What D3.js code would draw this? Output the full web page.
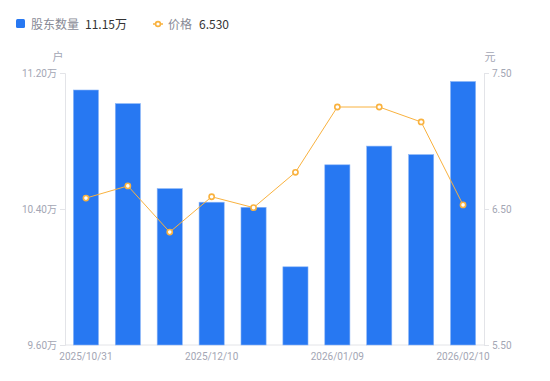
<!DOCTYPE html>
<html><head><meta charset="utf-8">
<script src="https://cdn.jsdelivr.net/npm/d3@7/dist/d3.min.js"></script>
<style>body{margin:0;background:#fff;font-family:"Noto Sans CJK SC","Noto Sans",sans-serif;}</style>
</head><body><svg id="c" width="550" height="381"></svg>
<script>
const dates = ["2025/10/31","2025/11/10","2025/11/20","2025/12/10","2025/12/19","2025/12/31","2026/01/09","2026/01/20","2026/01/30","2026/02/10"];
const holders = [11.10, 11.02, 10.52, 10.44, 10.41, 10.06, 10.66, 10.77, 10.72, 11.15];
const prices = [6.58, 6.67, 6.33, 6.59, 6.51, 6.77, 7.25, 7.25, 7.14, 6.53];
const leftTicks = [9.60, 10.40, 11.20];
const rightTicks = [5.50, 6.50, 7.50];
const shownDates = ["2025/10/31","2025/12/10","2026/01/09","2026/02/10"];

const svg = d3.select("#c");
const L = 65, R = 484, T = 73, B = 345;
const x = d3.scaleBand().domain(dates).range([L, R]).paddingInner(0.4).paddingOuter(0.2);
const yL = d3.scaleLinear().domain([9.60, 11.20]).range([B, T]);
const yR = d3.scaleLinear().domain([5.50, 7.50]).range([B, T]);
const blue = "#2778F2", orange = "#F9B23F", tickCol = "#A3A6B4", axisCol = "#E3E4E8";

// axes
const gl = svg.append("g").attr("transform", `translate(${L},0)`)
  .call(d3.axisLeft(yL).tickValues(leftTicks).tickSize(5).tickPadding(3).tickFormat(d => d.toFixed(2) + "万"));
const gr = svg.append("g").attr("transform", `translate(${R},0)`)
  .call(d3.axisRight(yR).tickValues(rightTicks).tickSize(5).tickPadding(3).tickFormat(d => d.toFixed(2)));
const gx = svg.append("g").attr("transform", `translate(0,${B})`)
  .call(d3.axisBottom(x).tickValues(shownDates).tickSize(0).tickPadding(8));
[gl, gr, gx].forEach(g => {
  g.select(".domain").attr("stroke", axisCol);
  g.selectAll(".tick line").attr("stroke", axisCol);
  g.selectAll("text").attr("fill", tickCol).style("font-family", "Roboto, 'Noto Sans CJK SC', sans-serif").style("font-size", "10px");
});
gx.select(".domain").attr("d", `M${L},0H${R}`);

// bars
svg.append("g").selectAll("rect").data(dates).join("rect")
  .attr("x", d => x(d)).attr("width", x.bandwidth())
  .attr("y", (d, i) => yL(holders[i])).attr("height", (d, i) => B - yL(holders[i]))
  .attr("fill", blue).attr("stroke", "#8DB6F7").attr("stroke-width", 0.6);

// line
const line = d3.line().x((d, i) => x(dates[i]) + x.bandwidth() / 2).y(d => yR(d));
svg.append("path").datum(prices).attr("d", line).attr("fill", "none").attr("stroke", orange).attr("stroke-width", 1);
svg.append("g").selectAll("circle").data(prices).join("circle")
  .attr("cx", (d, i) => x(dates[i]) + x.bandwidth() / 2).attr("cy", d => yR(d))
  .attr("r", 2.6).attr("fill", "#fff").attr("stroke", orange).attr("stroke-width", 1.6);

// unit labels
svg.append("text").attr("x", 58).attr("y", 61).attr("text-anchor", "middle").attr("fill", tickCol).style("font-size", "11px").text("户");
svg.append("text").attr("x", 490).attr("y", 61).attr("text-anchor", "middle").attr("fill", tickCol).style("font-size", "11px").text("元");

// legend
const lg = svg.append("g");
lg.append("rect").attr("x", 16).attr("y", 19).attr("width", 9).attr("height", 9).attr("rx", 1.5).attr("fill", blue);
lg.append("text").attr("x", 31).attr("y", 28.5).attr("fill", "#888A96").style("font-size", "12px").text("股东数量");
lg.append("text").attr("x", 85).attr("y", 28.5).attr("fill", "#333").style("font-size", "12px").text(holders[holders.length - 1].toFixed(2) + "万");
lg.append("line").attr("x1", 153).attr("x2", 163).attr("y1", 24).attr("y2", 24).attr("stroke", orange).attr("stroke-width", 1.5);
lg.append("circle").attr("cx", 158).attr("cy", 24).attr("r", 2.4).attr("fill", "#fff").attr("stroke", orange).attr("stroke-width", 1.6);
lg.append("text").attr("x", 168).attr("y", 28.5).attr("fill", "#888A96").style("font-size", "12px").text("价格");
lg.append("text").attr("x", 199).attr("y", 28.5).attr("fill", "#333").style("font-size", "12px").text(prices[prices.length - 1].toFixed(3));
</script></body></html>
